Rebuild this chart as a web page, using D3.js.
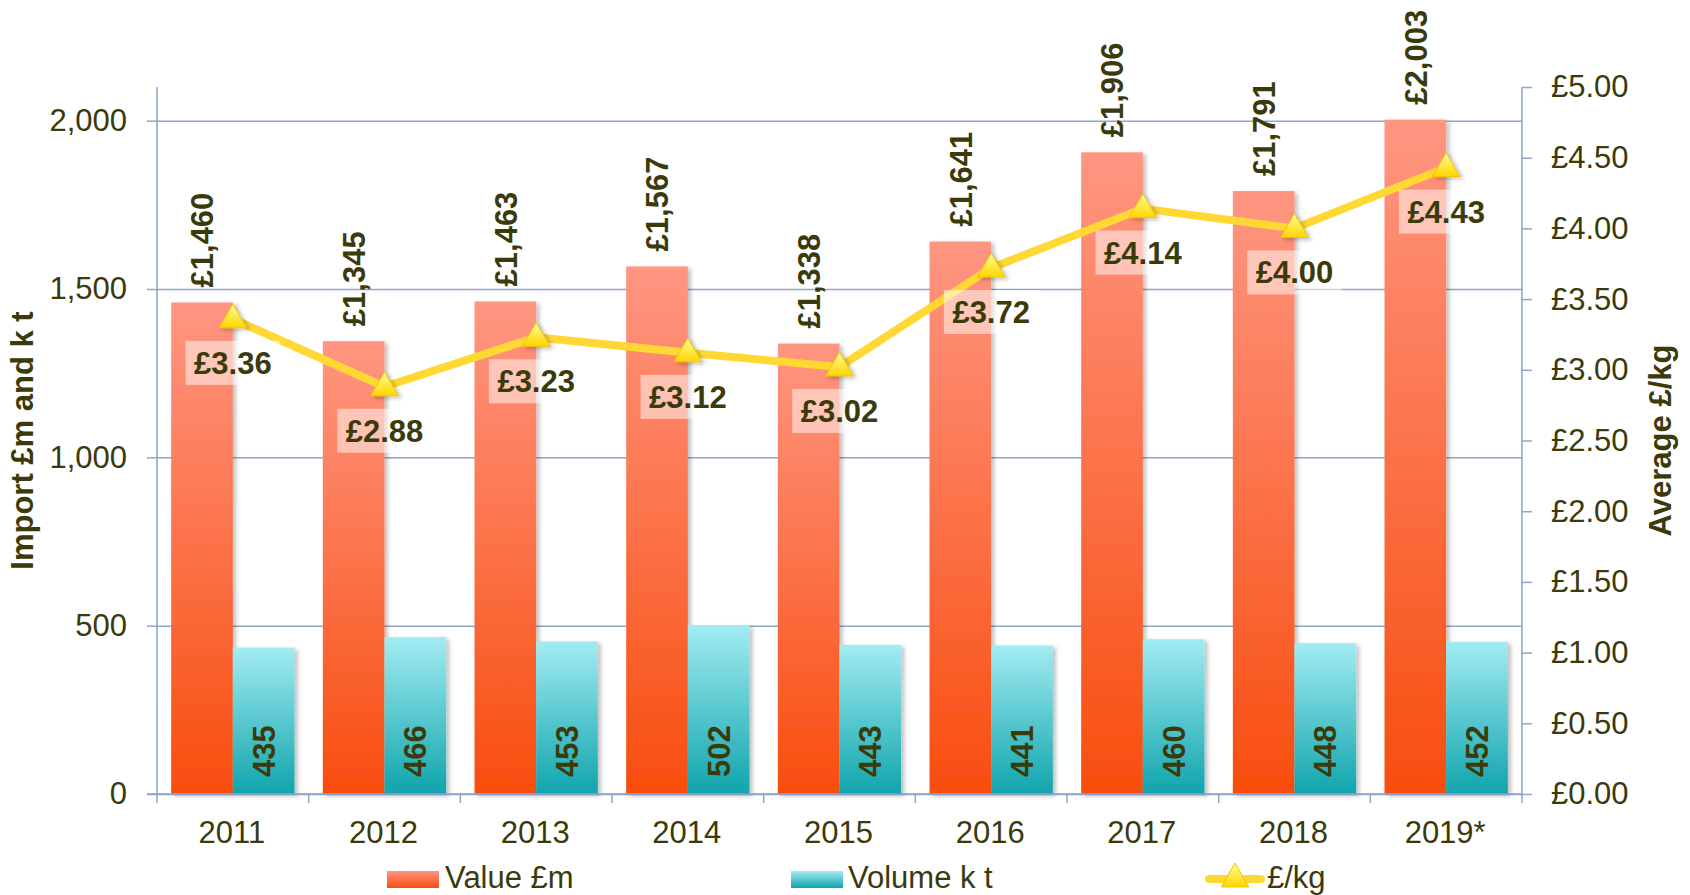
<!DOCTYPE html>
<html lang="en">
<head>
<meta charset="UTF-8">
<title>Imports</title>
<script src="https://d3js.org/d3.v7.min.js"></script>
<style>
  body { margin: 0; background: #fff; }
  text { font-family: "Liberation Sans", Arial, sans-serif; fill: #3b3a0b; }
</style>
</head>
<body>
<div id="chart"></div>
<script>
var years = ["2011", "2012", "2013", "2014", "2015", "2016", "2017", "2018", "2019*"];
var valueM = [1460, 1345, 1463, 1567, 1338, 1641, 1906, 1791, 2003];
var volumeKt = [435, 466, 453, 502, 443, 441, 460, 448, 452];
var pricePerKg = [3.36, 2.88, 3.23, 3.12, 3.02, 3.72, 4.14, 4.00, 4.43];
var leftTicks = [0, 500, 1000, 1500, 2000];
var rightTicks = [0, 0.5, 1, 1.5, 2, 2.5, 3, 3.5, 4, 4.5, 5];

var width = 1690, height = 895;
// note: "top" is a reserved window prop, so use plot* names
var plotLeft = 157, plotRight = 1522, plotTop = 87, plotBottom = 794;
var axisColor = "#8ea5cc";

var svg = d3.select("#chart").append("svg")
  .attr("width", width).attr("height", height);

var defs = svg.append("defs");
function grad(id, c1, c2) {
  var g = defs.append("linearGradient").attr("id", id)
    .attr("x1", 0).attr("y1", 0).attr("x2", 0).attr("y2", 1);
  g.append("stop").attr("offset", "0%").attr("stop-color", c1);
  g.append("stop").attr("offset", "100%").attr("stop-color", c2);
}
grad("gValue", "#ff9682", "#f84d0e");
grad("gVolume", "#a2ecf2", "#10a4ac");
grad("gTri", "#ffff9a", "#ffd500");
defs.append("filter").attr("id", "shadow")
  .attr("x", "-20%").attr("y", "-20%").attr("width", "150%").attr("height", "150%")
  .append("feDropShadow").attr("dx", 3).attr("dy", 2).attr("stdDeviation", 2)
  .attr("flood-color", "#000").attr("flood-opacity", 0.25);

var x = d3.scaleBand().domain(years).range([plotLeft, plotRight]);
var x1 = d3.scaleBand().domain(["value", "volume"]).range([0, x.bandwidth()]).paddingOuter(0.23);
var y = d3.scaleLinear().domain([0, 2100]).range([plotBottom, plotTop]);
var y2 = d3.scaleLinear().domain([0, 5]).range([plotBottom, plotTop]);

var data = years.map(function (yr, i) {
  return { year: yr, value: valueM[i], volume: volumeKt[i], price: pricePerKg[i] };
});

// gridlines + left axis
svg.append("g").attr("transform", "translate(" + plotLeft + ",0)")
  .call(d3.axisLeft(y).tickValues(leftTicks).tickSize(10).tickPadding(20)
    .tickFormat(d3.format(",")))
  .call(function (g) {
    g.select(".domain").remove();
    g.selectAll(".tick line").attr("stroke", axisColor).attr("stroke-width", 1.5);
    g.selectAll(".tick").append("line").attr("x1", 0).attr("x2", plotRight - plotLeft)
      .attr("stroke", axisColor).attr("stroke-width", 1.5);
    g.selectAll(".tick text").attr("font-size", 31).attr("fill", "#3b3a0b")
      .style("font-family", "'Liberation Sans', Arial, sans-serif");
  });

// bars
var grp = svg.append("g").selectAll("g").data(data).join("g")
  .attr("transform", function (d) { return "translate(" + x(d.year) + ",0)"; });

grp.append("rect")
  .attr("x", x1("value")).attr("width", x1.bandwidth())
  .attr("y", function (d) { return y(d.value); })
  .attr("height", function (d) { return y(0) - y(d.value); })
  .attr("fill", "url(#gValue)").attr("filter", "url(#shadow)");

grp.append("rect")
  .attr("x", x1("volume")).attr("width", x1.bandwidth())
  .attr("y", function (d) { return y(d.volume); })
  .attr("height", function (d) { return y(0) - y(d.volume); })
  .attr("fill", "url(#gVolume)").attr("filter", "url(#shadow)");

// axes lines
svg.append("line").attr("x1", plotLeft).attr("x2", plotLeft).attr("y1", plotTop).attr("y2", plotBottom + 9)
  .attr("stroke", axisColor).attr("stroke-width", 1.5);
svg.append("line").attr("x1", plotRight).attr("x2", plotRight).attr("y1", plotTop).attr("y2", plotBottom)
  .attr("stroke", axisColor).attr("stroke-width", 1.5);
svg.append("line").attr("x1", plotLeft - 10).attr("x2", plotRight).attr("y1", plotBottom).attr("y2", plotBottom)
  .attr("stroke", axisColor).attr("stroke-width", 1.5);

// category ticks
svg.append("g").selectAll("line").data(years.slice(1).concat(["end"])).join("line")
  .attr("x1", function (d) { return d === "end" ? plotRight : x(d); })
  .attr("x2", function (d) { return d === "end" ? plotRight : x(d); })
  .attr("y1", plotBottom).attr("y2", plotBottom + 9)
  .attr("stroke", axisColor).attr("stroke-width", 1.5);

svg.append("g").selectAll("text").data(years).join("text")
  .attr("x", function (d) { return x(d) + x.bandwidth() / 2 - 1; })
  .attr("y", 843).attr("text-anchor", "middle").attr("font-size", 31)
  .text(function (d) { return d; });

// right axis
svg.append("g").attr("transform", "translate(" + plotRight + ",0)")
  .call(d3.axisRight(y2).tickValues(rightTicks).tickSize(10).tickPadding(19)
    .tickFormat(function (d) { return "£" + d3.format(".2f")(d); }))
  .call(function (g) {
    g.select(".domain").remove();
    g.selectAll(".tick line").attr("stroke", axisColor).attr("stroke-width", 1.5);
    g.selectAll(".tick text").attr("font-size", 31).attr("fill", "#3b3a0b")
      .style("font-family", "'Liberation Sans', Arial, sans-serif");
  });

// value labels
grp.append("text")
  .attr("transform", function (d) {
    return "translate(" + (x1("value") + x1.bandwidth() / 2) + "," + (y(d.value) - 15) + ") rotate(-90)";
  })
  .attr("dy", "0.36em").attr("font-size", 31).attr("font-weight", "bold")
  .text(function (d) { return "£" + d3.format(",")(d.value); });

grp.append("text")
  .attr("transform", function (d) {
    return "translate(" + (x1("volume") + x1.bandwidth() / 2) + "," + (y(0) - 17) + ") rotate(-90)";
  })
  .attr("dy", "0.36em").attr("font-size", 31).attr("font-weight", "bold")
  .text(function (d) { return d.volume; });

// price line
var cx = function (d) { return x(d.year) + x.bandwidth() / 2; };
var line = d3.line().x(cx).y(function (d) { return y2(d.price); });
svg.append("path").datum(data).attr("d", line)
  .attr("fill", "none").attr("stroke", "#ffd833").attr("stroke-width", 8)
  .attr("stroke-linejoin", "round");

var tri = d3.symbol(d3.symbolTriangle, 330);
svg.append("g").selectAll("path").data(data).join("path")
  .attr("transform", function (d) { return "translate(" + cx(d) + "," + (y2(d.price) + 1) + ")"; })
  .attr("d", tri).attr("fill", "url(#gTri)").attr("stroke", "#f2c400").attr("stroke-width", 1)
  .attr("filter", "url(#shadow)");

// price labels
var pl = svg.append("g").selectAll("g").data(data).join("g")
  .attr("transform", function (d) { return "translate(" + cx(d) + "," + y2(d.price) + ")"; });
pl.append("rect").attr("fill", "#fff").attr("fill-opacity", 0.5);
var pt = pl.append("text").attr("y", 55).attr("text-anchor", "middle")
  .attr("font-size", 31).attr("font-weight", "bold")
  .text(function (d) { return "£" + d3.format(".2f")(d.price); });
pt.each(function () {
  var w = this.getComputedTextLength();
  d3.select(this.previousSibling).attr("x", -w / 2 - 8.5).attr("width", w + 17)
    .attr("y", 22).attr("height", 44);
});

// axis titles
svg.append("text").attr("transform", "translate(22," + ((plotTop + plotBottom) / 2) + ") rotate(-90)")
  .attr("dy", "0.36em").attr("text-anchor", "middle").attr("font-size", 31).attr("font-weight", "bold")
  .text("Import £m and k t");
svg.append("text").attr("transform", "translate(1660," + ((plotTop + plotBottom) / 2) + ") rotate(-90)")
  .attr("dy", "0.36em").attr("text-anchor", "middle").attr("font-size", 31).attr("font-weight", "bold")
  .text("Average £/kg");

// legend
var lg = svg.append("g");
lg.append("rect").attr("x", 387).attr("y", 871).attr("width", 52).attr("height", 17).attr("fill", "url(#gValue)");
lg.append("text").attr("x", 445).attr("y", 888).attr("font-size", 31).text("Value £m");
lg.append("rect").attr("x", 791).attr("y", 871).attr("width", 52).attr("height", 17).attr("fill", "url(#gVolume)");
lg.append("text").attr("x", 848).attr("y", 888).attr("font-size", 31).text("Volume k t");
lg.append("line").attr("x1", 1209).attr("x2", 1261).attr("y1", 879).attr("y2", 879)
  .attr("stroke", "#ffd833").attr("stroke-width", 8).attr("stroke-linecap", "round");
lg.append("path").attr("transform", "translate(1235,879)").attr("d", tri)
  .attr("fill", "url(#gTri)").attr("stroke", "#f2c400").attr("stroke-width", 1);
lg.append("text").attr("x", 1267).attr("y", 888).attr("font-size", 31).text("£/kg");
</script>
</body>
</html>
